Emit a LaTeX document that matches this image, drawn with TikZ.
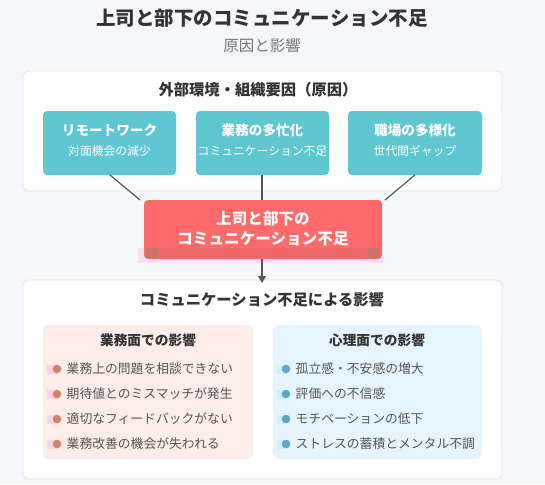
\documentclass[tikz,border=0pt]{standalone}
\usepackage{fontspec}
\setmainfont{Noto Sans CJK JP}
\usetikzlibrary{arrows.meta}
\definecolor{bg}{HTML}{F5F7FA}
\definecolor{teal}{HTML}{5FC7D2}
\definecolor{redbox}{HTML}{FF6B6B}
\definecolor{titlec}{HTML}{333333}
\definecolor{subc}{HTML}{777777}
\definecolor{linec}{HTML}{555555}
\definecolor{panelL}{HTML}{FDEDE8}
\definecolor{panelR}{HTML}{E6F5FD}
\definecolor{bulL}{HTML}{D5826A}
\definecolor{bulR}{HTML}{5FA6CC}
\definecolor{itemc}{HTML}{555555}
\definecolor{framec}{HTML}{E3E6EA}
\definecolor{shadeA}{HTML}{C9635E}
\definecolor{shadeB}{HTML}{A88068}
\definecolor{pinkA}{HTML}{FCD3E6}
\definecolor{cyanA}{HTML}{CDF3F8}
\definecolor{pinkbar}{HTML}{FCE0F2}
\tikzset{
  x=1pt, y=-1pt,
  frame/.style={draw=framec, line width=0.8pt, fill=white, rounded corners=6pt},
  causebox/.style={fill=teal, rounded corners=4pt},
  ctitle/.style={text=white, font=\bfseries\fontsize{13.6}{16}\selectfont},
  csub/.style={text=white, font=\fontsize{11.8}{14}\selectfont},
  head/.style={text=titlec, font=\bfseries\fontsize{15.3}{18}\selectfont},
  phead/.style={text=titlec, font=\bfseries\fontsize{13.7}{16}\selectfont},
  item/.style={text=itemc, anchor=west, font=\fontsize{12.8}{15}\selectfont, inner sep=0pt},
  conn/.style={draw=linec, line width=1.2pt},
}
\begin{document}
\begin{tikzpicture}
\useasboundingbox (0,0) rectangle (545,484);
\fill[bg] (0,0) rectangle (545,484);
% title
\node[text=titlec, font=\bfseries\fontsize{19.5}{23}\selectfont] (title) at (262,18) {上司と部下のコミュニケーション不足};
\node[text=subc, font=\fontsize{15.5}{18}\selectfont] (sub) at (262,46) {原因と影響};
% top frame
\draw[frame] (23,71) rectangle (502,191);
\node[head] (causehead) at (258,90) {外部環境・組織要因（原因）};
% cause boxes
\fill[causebox] (43,111) rectangle (176,175);
\fill[causebox] (196,111) rectangle (329,175);
\fill[causebox] (348,111) rectangle (482,175);
\coordinate (c1) at (110,175);
\coordinate (c2) at (262,175);
\coordinate (c3) at (415,175);
\node[ctitle] (t1) at (109.5,130) {リモートワーク};
\node[csub] (s1) at (109.5,151) {対面機会の減少};
\node[ctitle] (t2) at (262.5,130) {業務の多忙化};
\node[csub] (s2) at (262.5,151) {コミュニケーション不足};
\node[ctitle] (t3) at (415,130) {職場の多様化};
\node[csub] (s3) at (415,151) {世代間ギャップ};
% central box with artifacts
\fill[pinkbar] (138,248) rectangle (383,263);
\fill[redbox, rounded corners=4pt] (144,200) rectangle (382,259);
\fill[shadeA, opacity=0.35] (146,248) rectangle (380,258);
\fill[shadeB, opacity=0.45] (146,248) rectangle (158,258);
\fill[shadeB, opacity=0.45] (368,248) rectangle (380,258);
\coordinate (r1) at (140,200);
\coordinate (r2) at (262,200);
\coordinate (r3) at (385,200);
\coordinate (rb) at (262,259);
\node[text=white, font=\bfseries\fontsize{15.6}{20}\selectfont, align=center] (core) at (263,229) {上司と部下の\\コミュニケーション不足};
% connectors
\draw[conn] (c1) -- (r1);
\draw[conn] (c2) -- (r2);
\draw[conn] (c3) -- (r3);
% bottom frame
\draw[frame] (23,280) rectangle (502,479);
\coordinate (bt) at (262,283);
\draw[conn, -{Triangle[length=7pt,width=8pt]}] (rb) -- (bt);
\node[head] (effhead) at (262,300) {コミュニケーション不足による影響};
% panels
\fill[panelL, rounded corners=6pt] (43,325) rectangle (253,459);
\fill[panelR, rounded corners=6pt] (273,325) rectangle (482,459);
\node[phead] (lh) at (148,340) {業務面での影響};
\node[phead] (rh) at (377,340) {心理面での影響};
% left items
\foreach \yy/\txt in {369/業務上の問題を相談できない,394/期待値とのミスマッチが発生,419/適切なフィードバックがない,444/業務改善の機会が失われる}{
  \fill[pinkA] (47,\yy-4) rectangle (57,\yy+5);
  \fill[bulL] (57,\yy) circle (4.3);
  \node[item] at (66.5,\yy) {\txt};
}
% right items
\foreach \yy/\txt in {369/孤立感・不安感の増大,394/評価への不信感,419/モチベーションの低下,444/ストレスの蓄積とメンタル不調}{
  \fill[cyanA] (277,\yy-4) rectangle (286,\yy+5);
  \fill[bulR] (286,\yy) circle (4.3);
  \node[item] at (295.5,\yy) {\txt};
}
\end{tikzpicture}
\end{document}
